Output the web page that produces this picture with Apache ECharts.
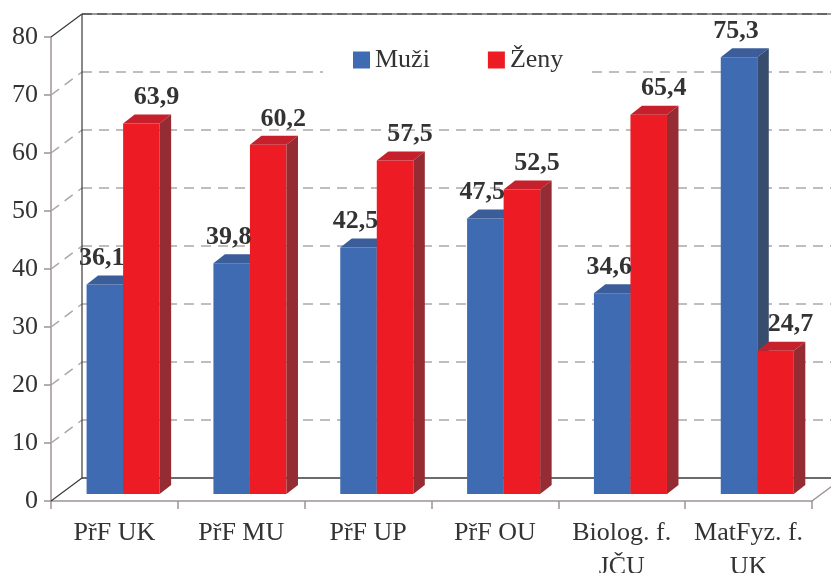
<!DOCTYPE html>
<html>
<head>
<meta charset="utf-8">
<script src="https://cdn.jsdelivr.net/npm/echarts@6/dist/echarts.min.js"></script>
<style>html,body{margin:0;padding:0;background:#fff;}#c{width:831px;height:573px;}</style>
</head>
<body>
<div id="c"></div>
<script>
const categories = ['PřF UK', 'PřF MU', 'PřF UP', 'PřF OU', 'Biolog. f.\nJČU', 'MatFyz. f.\nUK'];
const muzi = [36.1, 39.8, 42.5, 47.5, 34.6, 75.3];
const zeny = [63.9, 60.2, 57.5, 52.5, 65.4, 24.7];
const valueTicks = [0, 10, 20, 30, 40, 50, 60, 70, 80];

const FONT = "'Liberation Serif', 'Times New Roman', serif";
const TEXT = '#333333';
const AXIS = '#9e9494';
const GRID = '#aea6a6';
const DARK = '#3a3a3a';
const DX = 31, DY = -23;          // wall depth
const BDX = 11.5, BDY = -9;       // bar depth
const LIFT = 7;                   // bar front face above front floor edge
const BAR_W = 0.288, SPLIT = 0.0686;
const COLORS = [
  {front: '#3f6bb3', top: '#3b5d99', side: '#384c6e'},
  {front: '#ed1c24', top: '#c5202b', side: '#952b33'}
];
const LABEL_DX = [-3, 15];

function fmt(v) { return v.toFixed(1).replace('.', ','); }

function wallsRender(params, api) {
  const cs = params.coordSys;
  const X0 = cs.x, X1 = cs.x + cs.width;
  const children = [];
  const yOf = v => api.coord([0, v])[1];
  const y0 = yOf(valueTicks[0]);
  const yTop = yOf(valueTicks[valueTicks.length - 1]);
  valueTicks.slice(1, -1).forEach(v => {
    const y = yOf(v);
    children.push({type: 'line', shape: {x1: X0 + DX, y1: y + DY, x2: X1 + DX, y2: y + DY},
      style: {stroke: GRID, lineWidth: 1.5, lineDash: [10, 7]}});
    children.push({type: 'line', shape: {x1: X0, y1: y, x2: X0 + DX, y2: y + DY},
      style: {stroke: GRID, lineWidth: 1.5, lineDash: [10, 7]}});
  });
  children.push({type: 'line', shape: {x1: X0 + DX, y1: yTop + DY, x2: X1 + DX, y2: yTop + DY},
    style: {stroke: '#9a9a9a', lineWidth: 2}});
  children.push({type: 'line', shape: {x1: X0 + DX, y1: yTop + DY, x2: X1 + DX, y2: yTop + DY},
    style: {stroke: '#666', lineWidth: 2, lineDash: [10, 5]}});
  children.push({type: 'line', shape: {x1: X0, y1: yTop, x2: X0 + DX, y2: yTop + DY},
    style: {stroke: DARK, lineWidth: 1.2}});
  children.push({type: 'line', shape: {x1: X0 + DX, y1: y0 + DY, x2: X0 + DX, y2: yTop + DY},
    style: {stroke: DARK, lineWidth: 1.2}});
  children.push({type: 'line', shape: {x1: X0 + DX, y1: y0 + DY, x2: X1 + DX, y2: y0 + DY},
    style: {stroke: DARK, lineWidth: 1.5}});
  children.push({type: 'line', shape: {x1: X0, y1: y0, x2: X0 + DX, y2: y0 + DY},
    style: {stroke: DARK, lineWidth: 1.2}});
  children.push({type: 'line', shape: {x1: X1, y1: y0, x2: X1 + DX, y2: y0 + DY},
    style: {stroke: AXIS, lineWidth: 1.5}});
  return {type: 'group', children: children};
}

function barRender(side) {
  return function (params, api) {
    const i = api.value(0), v = api.value(1);
    const base = api.coord([i, 0]);
    const top = api.coord([i, v]);
    const band = api.size([1, 0])[0];
    const w = band * BAR_W;
    const split = base[0] + band * SPLIT;
    const x0 = side === 0 ? split - w : split;
    const x1 = x0 + w;
    const yb = base[1] - LIFT, yt = top[1] - LIFT;
    const c = COLORS[side];
    return {type: 'group', children: [
      {type: 'rect', shape: {x: x0, y: yt, width: w, height: yb - yt}, style: {fill: c.front}},
      {type: 'polygon', shape: {points: [[x0, yt], [x1, yt], [x1 + BDX, yt + BDY], [x0 + BDX, yt + BDY]]}, style: {fill: c.top}},
      {type: 'polygon', shape: {points: [[x1, yt], [x1 + BDX, yt + BDY], [x1 + BDX, yb + BDY], [x1, yb]]}, style: {fill: c.side}}
    ]};
  };
}

function labelRender(side) {
  return function (params, api) {
    const i = api.value(0), v = api.value(1);
    const base = api.coord([i, 0]);
    const top = api.coord([i, v]);
    const band = api.size([1, 0])[0];
    const w = band * BAR_W;
    const split = base[0] + band * SPLIT;
    const cx = (side === 0 ? split - w / 2 : split + w / 2) + LABEL_DX[side];
    const yt = top[1] - LIFT;
    return {type: 'text', x: cx, y: yt - 26,
      style: {text: fmt(v), fill: TEXT, font: 'bold 26px ' + FONT, align: 'center', verticalAlign: 'middle'}};
  };
}

const chart = echarts.init(document.getElementById('c'), null, {renderer: 'canvas'});
chart.setOption({
  animation: false,
  backgroundColor: '#fff',
  grid: {left: 51, right: 19, top: 37, bottom: 72, containLabel: false, outerBoundsMode: 'none'},
  legend: {
    left: 323, top: 41,
    padding: [6, 28, 6, 30],
    backgroundColor: '#fff',
    itemWidth: 17, itemHeight: 17, itemGap: 58,
    icon: 'rect',
    data: ['Muži', 'Ženy'],
    textStyle: {fontFamily: FONT, fontSize: 26, color: TEXT}
  },
  xAxis: {
    type: 'category',
    data: categories,
    boundaryGap: true,
    axisLine: {lineStyle: {color: AXIS, width: 1.5}},
    axisTick: {show: true, length: 8, lineStyle: {color: AXIS, width: 1.5}},
    axisLabel: {fontFamily: FONT, fontSize: 26, color: TEXT, margin: 15, lineHeight: 34, interval: 0},
    splitLine: {show: false}
  },
  yAxis: {
    type: 'value',
    min: valueTicks[0], max: valueTicks[valueTicks.length - 1], interval: 10,
    axisLine: {show: true, lineStyle: {color: AXIS, width: 1.5}},
    axisTick: {show: true, length: 7, lineStyle: {color: AXIS, width: 1.5}},
    axisLabel: {fontFamily: FONT, fontSize: 26, color: TEXT, margin: 13},
    splitLine: {show: false}
  },
  series: [
    {type: 'custom', name: 'walls', z: 1, clip: false, renderItem: wallsRender, data: [[0, 0]], silent: true},
    {type: 'custom', name: 'Muži', z: 2, clip: false, itemStyle: {color: COLORS[0].front},
      renderItem: barRender(0), data: muzi.map((v, i) => [i, v]), encode: {x: 0, y: 1}},
    {type: 'custom', name: 'Ženy', z: 2, clip: false, itemStyle: {color: COLORS[1].front},
      renderItem: barRender(1), data: zeny.map((v, i) => [i, v]), encode: {x: 0, y: 1}},
    {type: 'custom', name: 'lblM', z: 3, clip: false, renderItem: labelRender(0), data: muzi.map((v, i) => [i, v]), encode: {x: 0, y: 1}},
    {type: 'custom', name: 'lblZ', z: 3, clip: false, renderItem: labelRender(1), data: zeny.map((v, i) => [i, v]), encode: {x: 0, y: 1}}
  ]
});
</script>
</body>
</html>
